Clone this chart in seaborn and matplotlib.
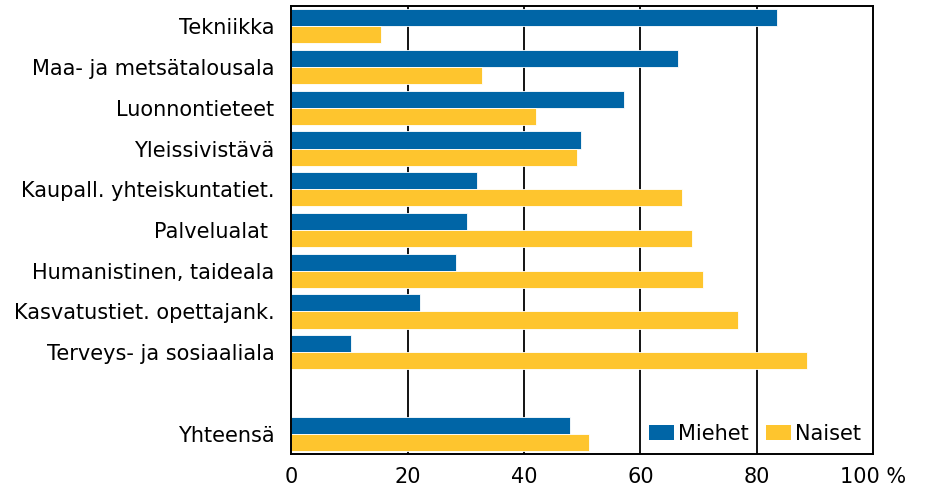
import matplotlib
matplotlib.use('Agg')
import matplotlib.pyplot as plt
import seaborn as sns
import pandas as pd
from matplotlib.patches import Patch

# data (share of men / women, %)
categories = ['Tekniikka', 'Maa- ja metsätalousala', 'Luonnontieteet', 'Yleissivistävä',
              'Kaupall. yhteiskuntatiet.', 'Palvelualat ', 'Humanistinen, taideala',
              'Kasvatustiet. opettajank.', 'Terveys- ja sosiaaliala', '', 'Yhteensä']
miehet = [83.5, 66.5, 57.2, 49.8, 32.0, 30.3, 28.4, 22.2, 10.3, None, 47.9]
naiset = [15.5, 32.8, 42.1, 49.2, 67.2, 68.9, 70.8, 76.8, 88.7, None, 51.1]
series = ['Miehet', 'Naiset']
colors = ['#0065a6', '#fec52e']
xticks = [0, 20, 40, 60, 80, 100]
xticklabels = ['0', '20', '40', '60', '80', '100 %']

rows = []
for cat, m, n in zip(categories, miehet, naiset):
    rows.append({'ala': cat, 'sukupuoli': 'Miehet', 'osuus': m})
    rows.append({'ala': cat, 'sukupuoli': 'Naiset', 'osuus': n})
df = pd.DataFrame(rows)

sns.set_style('white')
plt.rcParams['font.family'] = ['DejaVu Sans']
plt.rcParams['text.color'] = 'black'
plt.rcParams['xtick.color'] = 'black'
plt.rcParams['ytick.color'] = 'black'

fig = plt.figure(figsize=(9.27, 4.97), dpi=100)
ax = fig.add_axes([0.314, 0.0865, 0.628, 0.9015])

sns.barplot(data=df, y='ala', x='osuus', hue='sukupuoli', order=categories,
            hue_order=series, palette=colors, saturation=1, orient='h', width=0.84,
            linewidth=0.6, edgecolor='white', legend=False, ax=ax)

ax.set_xlim(0, 100)
ax.set_xticks(xticks)
ax.set_xticklabels(xticklabels, fontsize=15)
ax.tick_params(axis='y', labelsize=15, length=0, pad=12)
ax.tick_params(axis='x', length=0, pad=9)
ax.set_xlabel('')
ax.set_ylabel('')

# vertical grid lines
for v in xticks[1:-1]:
    ax.axvline(v, color='black', lw=1.3, zorder=0)
ax.set_axisbelow(True)

for s in ax.spines.values():
    s.set_visible(True)
    s.set_color('black')
    s.set_linewidth(1.4)

handles = [Patch(facecolor=c, edgecolor='none') for c in colors]
ax.legend(handles, series, loc='lower right', ncol=2, frameon=False, fontsize=15,
          handlelength=1.2, handleheight=0.7, handletextpad=0.2, columnspacing=0.8,
          borderaxespad=0.2, bbox_to_anchor=(1.0, -0.005))

fig.savefig('out.png', dpi=100)
